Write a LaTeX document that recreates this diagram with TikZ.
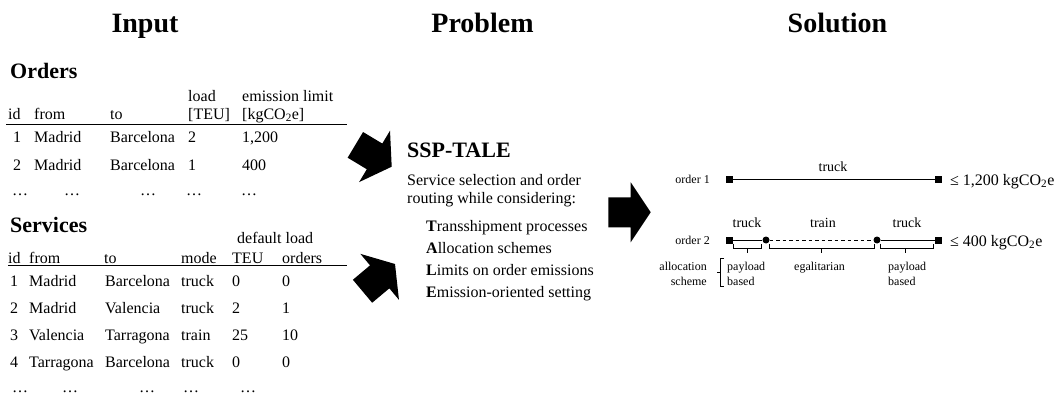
\documentclass[tikz,border=0pt]{standalone}
\usepackage{fontspec}
\setmainfont{Liberation Serif}
\begin{document}
\begin{tikzpicture}[x=1pt,y=-1pt,
 title/.style={font=\fontsize{28}{32}\selectfont\bfseries, anchor=base, inner sep=0},
 head/.style={font=\fontsize{22}{26}\selectfont\bfseries, anchor=base west, inner sep=0},
 txt/.style={font=\fontsize{16}{19}\selectfont, anchor=base west, inner sep=0},
 lbl/.style={font=\fontsize{14}{16}\selectfont, anchor=base, inner sep=0},
 sml/.style={font=\fontsize{12}{14}\selectfont, anchor=base west, inner sep=0},
 smr/.style={font=\fontsize{12}{14}\selectfont, anchor=base east, inner sep=0},
 rule/.style={line width=1pt},
 endpt/.style={fill=black, inner sep=0, minimum size=7pt, rectangle},
 stopc/.style={fill=black, inner sep=0, minimum size=7pt, circle},
 leg/.style={line width=1pt},
 brk/.style={line width=0.9pt},
 blockarrow/.pic={\fill (-42.4,-15) -- (-20,-15) -- (-20,-30) -- (0,0) -- (-20,30) -- (-20,15) -- (-42.4,15) -- cycle;}]
\useasboundingbox (0,0) rectangle (1059,396);

% titles
\node[title] (tin) at (145,33) {Input};
\node[title] (tpr) at (482.5,33) {Problem};
\node[title] (tso) at (837.5,33) {Solution};

% Orders
\node[head] (orders) at (10,78) {Orders};
\node[txt] (ohload) at (188,101) {load};
\node[txt] (ohlim) at (242,101) {emission limit};
\node[txt] (ohid) at (8,119) {id};
\node[txt] (ohfrom) at (34,119) {from};
\node[txt] (ohto) at (110,119) {to};
\node[txt] (ohteu) at (188,119) {[TEU]};
\node[txt] (ohkg) at (242,119) {[kgCO\textsubscript{2}e]};
\draw[rule] (6,124.5) -- (347,124.5);
\node[txt] (o1id) at (13,142) {1};
\node[txt] (o1f) at (34,142) {Madrid};
\node[txt] (o1t) at (110,142) {Barcelona};
\node[txt] (o1l) at (188,142) {2};
\node[txt] (o1e) at (242,142) {1,200};
\node[txt] (o2id) at (13,170) {2};
\node[txt] (o2f) at (34,170) {Madrid};
\node[txt] (o2t) at (110,170) {Barcelona};
\node[txt] (o2l) at (188,170) {1};
\node[txt] (o2e) at (242,170) {400};
\node[txt] (od1) at (12,195) {\ldots};
\node[txt] (od2) at (64,195) {\ldots};
\node[txt] (od3) at (140,195) {\ldots};
\node[txt] (od4) at (186,195) {\ldots};
\node[txt] (od5) at (241,195) {\ldots};

% Services
\node[head] (services) at (10,232) {Services};
\node[txt] (shdef) at (237,243) {default load};
\node[txt] (shid) at (8,263) {id};
\node[txt] (shfrom) at (29,263) {from};
\node[txt] (shto) at (104,263) {to};
\node[txt] (shmode) at (181,263) {mode};
\node[txt] (shteu) at (232,263) {TEU};
\node[txt] (shord) at (282,263) {orders};
\draw[rule] (8,265) -- (347,265);
\node[txt] (s1id) at (10,286) {1};
\node[txt] (s1f) at (29,286) {Madrid};
\node[txt] (s1t) at (105,286) {Barcelona};
\node[txt] (s1m) at (181,286) {truck};
\node[txt] (s1u) at (232,286) {0};
\node[txt] (s1o) at (282,286) {0};
\node[txt] (s2id) at (10,313) {2};
\node[txt] (s2f) at (29,313) {Madrid};
\node[txt] (s2t) at (105,313) {Valencia};
\node[txt] (s2m) at (181,313) {truck};
\node[txt] (s2u) at (232,313) {2};
\node[txt] (s2o) at (282,313) {1};
\node[txt] (s3id) at (10,340) {3};
\node[txt] (s3f) at (29,340) {Valencia};
\node[txt] (s3t) at (105,340) {Tarragona};
\node[txt] (s3m) at (181,340) {train};
\node[txt] (s3u) at (232,340) {25};
\node[txt] (s3o) at (282,340) {10};
\node[txt] (s4id) at (10,367) {4};
\node[txt] (s4f) at (29,367) {Tarragona};
\node[txt] (s4t) at (105,367) {Barcelona};
\node[txt] (s4m) at (181,367) {truck};
\node[txt] (s4u) at (232,367) {0};
\node[txt] (s4o) at (282,367) {0};
\node[txt] (sd1) at (12,392) {\ldots};
\node[txt] (sd2) at (62,392) {\ldots};
\node[txt] (sd3) at (139,392) {\ldots};
\node[txt] (sd4) at (183,392) {\ldots};
\node[txt] (sd5) at (240,392) {\ldots};

% arrows
\pic[rotate=-31] at (391.7,166.7) {blockarrow};
\pic[rotate=40] at (395,264) {blockarrow};
\pic at (650.7,212.3) {blockarrow};

% Problem
\node[head] (ssp) at (407,157) {SSP-TALE};
\node[txt] (p1) at (407,185) {Service selection and order};
\node[txt] (p2) at (407,203) {routing while considering:};
\node[txt] (l1) at (426,231) {\textbf{T}ransshipment processes};
\node[txt] (l2) at (426,253) {\textbf{A}llocation schemes};
\node[txt] (l3) at (426,275) {\textbf{L}imits on order emissions};
\node[txt] (l4) at (426,297) {\textbf{E}mission-oriented setting};

% Solution: order 1
\node[smr] (o1lab) at (710,183) {order 1};
\node[endpt] (r1a) at (729.7,179.3) {};
\node[endpt] (r1b) at (938.3,179.3) {};
\draw[leg] (r1a) -- (r1b);
\node[lbl] (r1m) at (833,171.5) {truck};
\node[txt] (r1lim) at (950,185) {≤ 1,200 kgCO\textsubscript{2}e};

% order 2
\node[smr] (o2lab) at (710,244) {order 2};
\node[endpt] (r2a) at (729.7,240) {};
\node[stopc] (r2b) at (766,240) {};
\node[stopc] (r2c) at (877,240) {};
\node[endpt] (r2d) at (938.3,240) {};
\draw[leg] (r2a) -- (r2b);
\draw[line width=0.8pt, dash pattern=on 3.5pt off 3pt] (r2b) -- (r2c);
\draw[leg] (r2c) -- (r2d);
\node[lbl] (r2m1) at (747,227) {truck};
\node[lbl] (r2m2) at (823,227) {train};
\node[lbl] (r2m3) at (907,227) {truck};
\node[txt] (r2lim) at (950,246) {≤ 400 kgCO\textsubscript{2}e};

% allocation braces
\draw[brk] (733.3,243.5) -- (733.3,248.5) -- (761.7,248.5) -- (761.7,243.5) (747.5,248.5) -- (747.5,253);
\draw[brk] (769,243.5) -- (769,248.5) -- (874.3,248.5) -- (874.3,243.5) (821.7,248.5) -- (821.7,253);
\draw[brk] (880,243.5) -- (880,248.5) -- (933.3,248.5) -- (933.3,243.5) (905.7,248.5) -- (905.7,253);
\draw[brk] (724,258.3) -- (720.7,258.3) -- (720.7,286.7) -- (724,286.7) (720.7,272.5) -- (717.3,272.5);
\node[smr] (as1) at (707,270) {allocation};
\node[smr] (as2) at (707,285) {scheme};
\node[sml] (pb1) at (727,270) {payload};
\node[sml] (pb2) at (727,285) {based};
\node[sml] (eg) at (794,270) {egalitarian};
\node[sml] (pb3) at (888,270) {payload};
\node[sml] (pb4) at (888,285) {based};
\end{tikzpicture}
\end{document}
